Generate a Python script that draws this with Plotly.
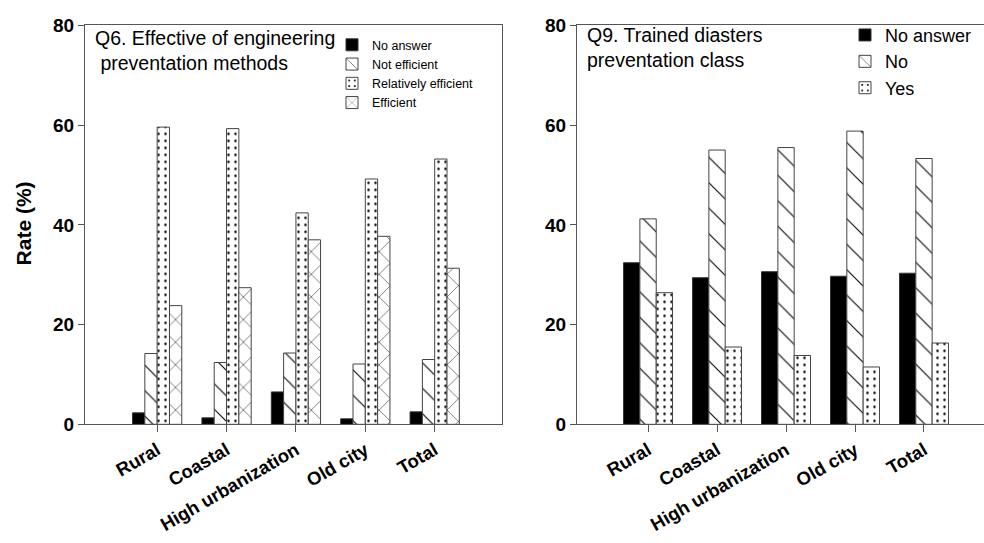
import plotly.graph_objects as go

categories = ["Rural", "Coastal", "High urbanization", "Old city", "Total"]

# Q6 panel
q6_no_answer = [2.3, 1.3, 6.5, 1.1, 2.5]
q6_not_efficient = [14.2, 12.4, 14.3, 12.1, 13.0]
q6_rel_efficient = [59.6, 59.3, 42.4, 49.2, 53.2]
q6_efficient = [23.8, 27.4, 37.0, 37.7, 31.3]

# Q9 panel
q9_no_answer = [32.4, 29.4, 30.6, 29.7, 30.3]
q9_no = [41.2, 55.0, 55.5, 58.8, 53.3]
q9_yes = [26.4, 15.5, 13.8, 11.5, 16.3]

y_ticks = [0, 20, 40, 60, 80]

FONT = "Arial, Liberation Sans, sans-serif"
LINE = "#555555"

def pat(shape, size, sol):
    return dict(shape=shape, fgcolor="black", bgcolor="white", size=size, solidity=sol,
                fillmode="overlay", fgopacity=1)

styles = {
    "solid": dict(color="black", line=dict(color="#333333", width=1)),
    "back": dict(color="white", line=dict(color="#444444", width=1), pattern=pat("\\", 18, 0.06)),
    "dot": dict(color="white", line=dict(color="#444444", width=1), pattern=pat(".", 7, 0.1)),
    "x": dict(color="white", line=dict(color="#444444", width=1), pattern=pat("x", 16, 0.06)),
}

fig = go.Figure()

left = [("No answer", q6_no_answer, "solid"), ("Not efficient", q6_not_efficient, "back"),
        ("Relatively efficient", q6_rel_efficient, "dot"), ("Efficient", q6_efficient, "x")]
for name, vals, st in left:
    fig.add_trace(go.Bar(x=categories, y=vals, name=name, marker=styles[st],
                         xaxis="x", yaxis="y", legend="legend"))

right = [("No answer", q9_no_answer, "solid"), ("No", q9_no, "back"), ("Yes", q9_yes, "dot")]
for name, vals, st in right:
    fig.add_trace(go.Bar(x=categories, y=vals, name=name, marker=styles[st],
                         xaxis="x2", yaxis="y2", legend="legend2"))

W, H = 984, 543
def px(v): return v / W
def py(v): return 1 - v / H

xcommon = dict(type="category", showgrid=False, zeroline=False, showline=True, linecolor=LINE,
               linewidth=1, mirror=True, ticks="outside", ticklen=7, tickcolor=LINE,
               tickangle=-30, tickfont=dict(family=FONT, size=18.5, color="black", weight="bold"))
ycommon = dict(range=[0, 80], tickvals=y_ticks, showgrid=False, zeroline=False, showline=True,
               linecolor=LINE, linewidth=1, ticks="outside", ticklen=6, tickcolor=LINE,
               tickfont=dict(family=FONT, size=19, color="black", weight="bold"))

fig.update_layout(
    width=W, height=H, margin=dict(l=0, r=0, t=0, b=0),
    paper_bgcolor="white", plot_bgcolor="white",
    barmode="group", bargap=0.29, bargroupgap=0,
    font=dict(family=FONT, color="black"),
    xaxis=dict(domain=[px(85), px(502)], range=[-1.04, 4.97], anchor="y", **xcommon),
    yaxis=dict(domain=[py(431), py(16)], anchor="x", mirror=True, **ycommon),
    xaxis2=dict(domain=[px(577), 1.0], range=[-1.03, 4.87], anchor="y2", **xcommon),
    yaxis2=dict(domain=[py(431), py(16)], anchor="x2", mirror=False, **ycommon),
    legend=dict(x=px(332), y=py(21), xanchor="left", yanchor="top", bgcolor="rgba(0,0,0,0)",
                font=dict(family=FONT, size=12.5, color="black"), tracegroupgap=0),
    legend2=dict(x=px(845), y=py(7), xanchor="left", yanchor="top", bgcolor="rgba(0,0,0,0)",
                 font=dict(family=FONT, size=18, color="black"), tracegroupgap=0),
    annotations=[
        dict(text="Q6. Effective of engineering<br> preventation methods", xref="paper", yref="paper",
             x=px(93), y=py(16), xanchor="left", yanchor="top", align="left", showarrow=False,
             font=dict(family=FONT, size=19.5, color="black")),
        dict(text="Q9. Trained diasters<br>preventation class", xref="paper", yref="paper",
             x=px(585), y=py(12), xanchor="left", yanchor="top", align="left", showarrow=False,
             font=dict(family=FONT, size=19.5, color="black")),
        dict(text="Rate (%)", xref="paper", yref="paper", x=px(23), y=py(222), textangle=-90,
             xanchor="center", yanchor="middle", showarrow=False,
             font=dict(family=FONT, size=21, color="black", weight="bold")),
    ],
)

fig.write_html("out.html")
